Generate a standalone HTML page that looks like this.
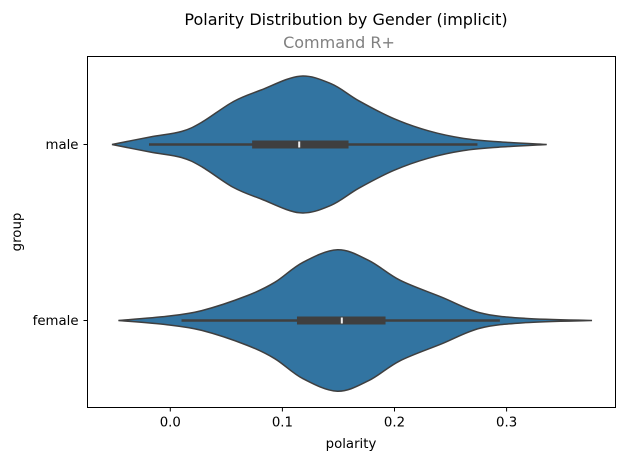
<!DOCTYPE html>
<html><head><meta charset="utf-8"><style>
body{margin:0;background:#fff}
svg text{font-family:"DejaVu Sans","Liberation Sans",sans-serif}
</style></head><body>
<svg id="c" width="630" height="461" viewBox="0 0 630 461">
<text x="346" y="25" font-size="16" text-anchor="middle" fill="#000">Polarity Distribution by Gender (implicit)</text>
<text x="339" y="48" font-size="16" text-anchor="middle" fill="#808080">Command R+</text>
<g id="plot"></g>
<rect x="87.5" y="56.5" width="528" height="351" fill="none" stroke="#000" stroke-width="1"/>
<text x="351" y="448" font-size="13.3" text-anchor="middle">polarity</text>
<text transform="translate(21,232) rotate(-90)" font-size="13.3" text-anchor="middle">group</text>
</svg>
<script>
const categories=["male","female"];
const xTicks=[0.0,0.1,0.2,0.3];
const xTickLabels=["0.0","0.1","0.2","0.3"];
const maleGrid=[-0.052,-0.018,0.0099,0.0285,0.0564,0.0813,0.1154,0.1434,0.1682,0.1993,0.2303,0.2613,0.2924,0.3358];
const maleDensity=[0,0.11,0.19,0.33,0.63,0.80,1,0.89,0.64,0.38,0.20,0.09,0.04,0];
const femaleGrid=[-0.0463,-0.0029,0.0281,0.0684,0.0932,0.118,0.149,0.177,0.2049,0.2421,0.2762,0.3166,0.3762];
const femaleDensity=[0,0.06,0.14,0.35,0.54,0.82,1,0.85,0.57,0.33,0.11,0.03,0];
const peakScale=[0.966,1.0];
const boxQ1=[0.073,0.113];
const boxMedian=[0.115,0.153];
const boxQ3=[0.159,0.192];
const whiskerLow=[-0.019,0.010];
const whiskerHigh=[0.274,0.294];

const NS="http://www.w3.org/2000/svg";
const X0=87.5,Y1=407.5;
const xScale=v=>170.3+1121*v;
const yBand=i=>[144.5,320.5][i];
const maxHalf=70.7;
const g=document.getElementById('plot');
function mk(t,a){const e=document.createElementNS(NS,t);for(const k in a)e.setAttribute(k,a[k]);return e;}
function spline(pts){
  let d="M"+pts[0][0]+","+pts[0][1];
  for(let i=0;i<pts.length-1;i++){
    const p0=pts[Math.max(0,i-1)],p1=pts[i],p2=pts[i+1],p3=pts[Math.min(pts.length-1,i+2)];
    const c1=[p1[0]+(p2[0]-p0[0])/6,p1[1]+(p2[1]-p0[1])/6];
    const c2=[p2[0]-(p3[0]-p1[0])/6,p2[1]-(p3[1]-p1[1])/6];
    d+=" C"+c1[0]+","+c1[1]+" "+c2[0]+","+c2[1]+" "+p2[0]+","+p2[1];
  }
  return d;
}
const grids=[maleGrid,femaleGrid],dens=[maleDensity,femaleDensity];
categories.forEach((c,i)=>{
  const cy=yBand(i),h=maxHalf*peakScale[i];
  const top=grids[i].map((v,j)=>[xScale(v),cy-dens[i][j]*h]);
  const bot=grids[i].map((v,j)=>[xScale(v),cy+dens[i][j]*h]).reverse();
  let d=spline(top)+" L"+bot[0][0]+","+bot[0][1]+spline(bot).replace(/^M[^ ]+/,"")+" Z";
  const p=mk('path',{d:d,fill:'#3274a1',stroke:'#3f3f3f','stroke-width':1.5});
  
  
  g.appendChild(p);
  const w=mk('line',{x1:xScale(whiskerLow[i]),x2:xScale(whiskerHigh[i]),y1:cy,y2:cy,stroke:'#3f3f3f','stroke-width':2.5});
  
  
  g.appendChild(w);
  const b=mk('rect',{x:xScale(boxQ1[i]),y:cy-4,width:xScale(boxQ3[i])-xScale(boxQ1[i]),height:8,fill:'#3f3f3f'});
  
  
  g.appendChild(b);
  const m=mk('line',{x1:xScale(boxMedian[i]),x2:xScale(boxMedian[i]),y1:cy-3,y2:cy+3,stroke:'#f0f0f0','stroke-width':2});
  
  
  g.appendChild(m);
  const tk=mk('line',{x1:X0-4,x2:X0,y1:cy,y2:cy,stroke:'#000'});
  
  
  g.appendChild(tk);
  const tl=mk('text',{x:X0-9,y:cy+4.5,'font-size':13.3,'text-anchor':'end'});
  tl.textContent=c;
  
  
  g.appendChild(tl);
});
xTicks.forEach((v,i)=>{
  const x=xScale(v);
  const t=mk('line',{x1:x,x2:x,y1:Y1,y2:Y1+4,stroke:'#000'});
  
  
  g.appendChild(t);
  const l=mk('text',{x:x,y:Y1+19,'font-size':13.3,'text-anchor':'middle'});
  l.textContent=xTickLabels[i];
  
  
  g.appendChild(l);
});
</script>
</body></html>
